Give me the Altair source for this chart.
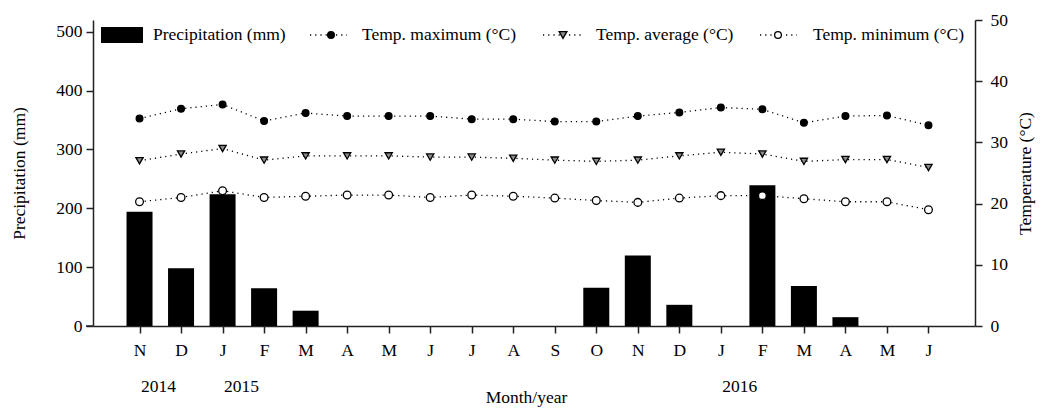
import altair as alt
import pandas as pd

months = ["N", "D", "J", "F", "M", "A", "M", "J", "J", "A",
          "S", "O", "N", "D", "J", "F", "M", "A", "M", "J"]
precip = [194, 98, 224, 64, 26, 0, 0, 0, 0, 0,
          0, 65, 120, 36, 0, 239, 68, 15, 0, 0]
temp_max = [33.9, 35.5, 36.2, 33.5, 34.8, 34.3, 34.3, 34.3, 33.8, 33.8,
            33.4, 33.4, 34.3, 34.9, 35.7, 35.4, 33.2, 34.3, 34.4, 32.8]
temp_avg = [27.0, 28.1, 29.0, 27.1, 27.8, 27.8, 27.8, 27.6, 27.6, 27.4,
            27.1, 26.9, 27.1, 27.8, 28.4, 28.1, 26.9, 27.2, 27.2, 25.9]
temp_min = [20.3, 21.0, 22.1, 21.0, 21.2, 21.4, 21.4, 21.0, 21.4, 21.2,
            20.9, 20.5, 20.2, 20.9, 21.3, 21.3, 20.8, 20.3, 20.3, 19.0]
years = ["2014", "2015", "2016"]
year_start_idx = [0, 2, 14]
series_names = ["Temp. maximum (°C)", "Temp. average (°C)", "Temp. minimum (°C)"]
legend_bar_label = "Precipitation (mm)"

FONT = "Liberation Serif, Times New Roman, DejaVu Serif, serif"
FS = 17.5

idx = list(range(len(months)))
bars_df = pd.DataFrame({"idx": idx, "precip": precip})
rows = []
for name, vals in zip(series_names, [temp_max, temp_avg, temp_min]):
    for i, v in zip(idx, vals):
        rows.append({"idx": i, "temp": v, "series": name})
temp_df = pd.DataFrame(rows)
year_df = pd.DataFrame({"idx": year_start_idx, "year": years})
one = pd.DataFrame({"k": [0]})

label_expr = "[" + ",".join("'%s'" % m for m in months) + "][datum.value]"

x_enc = alt.X("idx:Q", scale=alt.Scale(domain=[-1, len(months)], nice=False, zero=False),
              axis=alt.Axis(values=idx, labelExpr=label_expr, grid=False, tickSize=7,
                            labelPadding=8, title="Month/year", titlePadding=30,
                            titleX=433, titleAlign="center"))

bars = alt.Chart(bars_df).mark_bar(size=26, color="black").encode(
    x=x_enc,
    y=alt.Y("precip:Q", scale=alt.Scale(domain=[0, 520], nice=False),
            axis=alt.Axis(values=[0, 100, 200, 300, 400, 500], grid=False, tickSize=7,
                          labelPadding=4, title="Precipitation (mm)", titlePadding=27,
                          orient="left")),
)

xq = alt.X("idx:Q")
temp_y = alt.Y("temp:Q", scale=alt.Scale(domain=[0, 50], nice=False),
               axis=alt.Axis(values=[0, 10, 20, 30, 40, 50], grid=False, tickSize=7,
                             labelPadding=8, title="Temperature (°C)", titlePadding=27,
                             titleAngle=270, orient="right"))

lines = alt.Chart(temp_df).mark_line(color="black", strokeDash=[1.2, 4], strokeWidth=1.3).encode(
    x=xq, y=temp_y, detail="series:N")

fills = ["black", "#8c8c8c", "white"]
shapes = ["circle", "triangle-down", "circle"]
sizes = [45, 60, 45]

pts = alt.Chart(temp_df).mark_point(filled=True, strokeWidth=1.3, opacity=1).encode(
    x=xq, y=alt.Y("temp:Q"),
    fill=alt.Fill("series:N", scale=alt.Scale(domain=series_names, range=fills), legend=None),
    shape=alt.Shape("series:N", scale=alt.Scale(domain=series_names, range=shapes), legend=None),
    size=alt.Size("series:N", scale=alt.Scale(domain=series_names, range=sizes), legend=None),
    stroke=alt.value("black"),
)

temps = alt.layer(lines, pts)

year_text = alt.Chart(year_df).mark_text(font=FONT, fontSize=FS, align="center", baseline="middle", dx=19).encode(
    x=xq, y=alt.value(367), text="year:N")

# legend
leg = []
leg.append(alt.Chart(one).mark_rect(color="black").encode(
    x=alt.value(8), x2=alt.value(50), y=alt.value(7), y2=alt.value(23)))
leg.append(alt.Chart(one).mark_text(font=FONT, fontSize=FS, align="left", baseline="middle").encode(
    x=alt.value(60), y=alt.value(15), text=alt.value(legend_bar_label)))
sym_x = [(217, 254, 238, 269), (450, 489, 470, 503), (667, 704, 685, 720)]
for (x1, x2, xc, xt), nm, f, s, sz in zip(sym_x, series_names, fills, shapes, sizes):
    leg.append(alt.Chart(one).mark_rule(color="black", strokeDash=[1.2, 4], strokeWidth=1.3).encode(
        x=alt.value(x1), x2=alt.value(x2), y=alt.value(15)))
    leg.append(alt.Chart(one).mark_point(filled=True, size=sz, fill=f, stroke="black", strokeWidth=1.3,
                                         shape=s, opacity=1).encode(
        x=alt.value(xc), y=alt.value(15)))
    leg.append(alt.Chart(one).mark_text(font=FONT, fontSize=FS, align="left", baseline="middle").encode(
        x=alt.value(xt), y=alt.value(15), text=alt.value(nm)))

xext = alt.Chart(one).mark_rule(color="#222", strokeWidth=1.5).encode(
    x=alt.value(-7), x2=alt.value(0), y=alt.value(306))

chart = alt.layer(bars, temps, year_text, xext, *leg).resolve_scale(y="independent").properties(
    width=882, height=306,
    autosize=alt.AutoSizeParams(type="none"),
    padding={"left": 85, "top": 12, "right": 63, "bottom": 83},
).configure_view(stroke=None).configure_axis(
    labelFont=FONT, titleFont=FONT, labelFontSize=FS, titleFontSize=FS,
    titleFontWeight="normal", labelColor="black", titleColor="black",
    domainColor="#222", tickColor="#222", domainWidth=1.5, tickWidth=1.5,
)

chart.save("out.html", embed_options={"renderer": "svg", "actions": False})
